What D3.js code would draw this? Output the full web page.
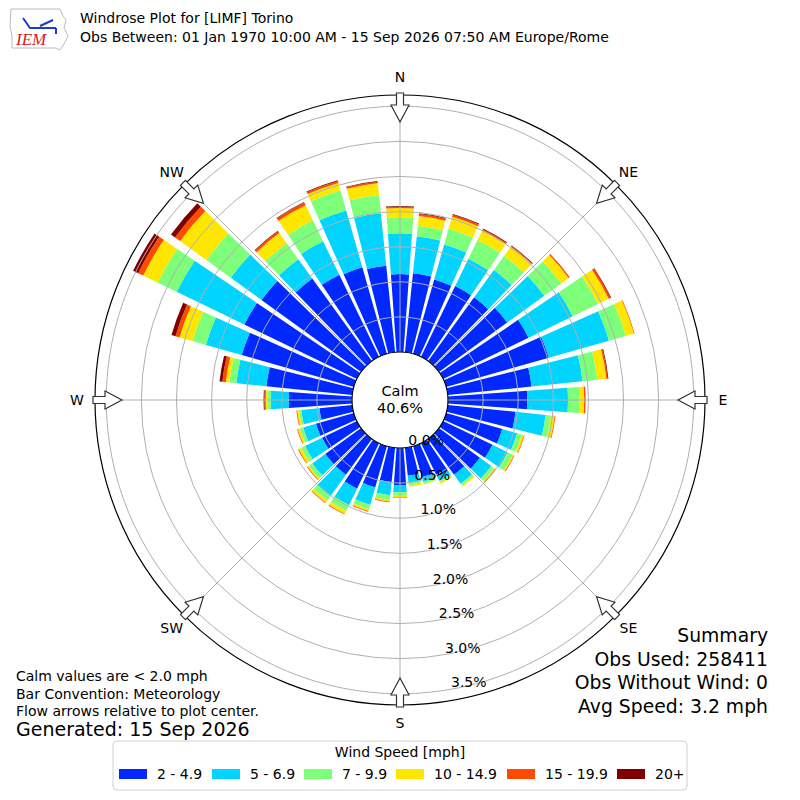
<!DOCTYPE html>
<html>
<head>
<meta charset="utf-8" />
<title>windrose</title>
<style>
html, body { margin:0; background:#fff; }
svg { font-family: 'DejaVu Sans', sans-serif; }
</style>
</head>
<body>
<script src="https://cdn.jsdelivr.net/npm/d3@7"></script>
<script>

//=======================================
// data (percent of obs, per speed bin)
//=======================================

let directions = d3.range(0, 360, 10);

let binLabels = ['2 - 4.9','5 - 6.9','7 - 9.9','10 - 14.9','15 - 19.9','20+'];
let binColors = ['#0028ff','#00d4ff','#7dff7a','#ffe600','#ff4a00','#800000'];

let bin1 = [1.11,1.13,1.10,1.12,1.12,1.20,1.35,1.52,1.20,1.13,.97,.83,.78,.72,.63,.53,.46,.40,.53,.49,.61,.72,.63,.63,.55,.56,.47,.90,1.23,1.66,1.78,1.75,1.45,1.30,1.28,1.24];
let bin2 = [.58,.53,.52,.43,.48,.65,.70,.89,.73,.58,.43,.22,.24,.20,.16,.07,.07,.10,.10,.19,.26,.26,.37,.23,.27,.19,.26,.26,.43,.53,1.07,.54,.34,.53,.84,.75];
let bin3 = [.23,.15,.23,.30,.25,.30,.40,.25,.21,.16,.08,.07,.08,.05,.03,.02,.03,.04,.05,.07,.06,.09,.08,.06,.06,.05,.03,.04,.10,.20,.30,.43,.28,.33,.30,.26];
let bin4 = [.13,.14,.18,.15,.16,.13,.17,.12,.13,.07,.05,.03,.02,.02,.02,.02,.01,.02,.02,.02,.03,.05,.04,.02,.04,.03,.03,.03,.05,.19,.23,.46,.18,.24,.11,.17];
let bin5 = [.02,.03,.03,.02,.01,.02,.03,.01,.02,.02,.01,.01,.01,.01,0,0,0,0,.01,.01,.01,.01,.01,.01,.01,.01,.01,.02,.05,.06,.08,.09,.03,.04,.03,.02];
let bin6 = [.01,.01,.01,.01,.01,0,.01,0,.01,0,0,0,0,0,0,0,0,0,0,0,0,0,0,0,0,0,0,.01,.04,.06,.08,.07,.01,.01,.01,.01];

let ringTicks = [0,0.5,1.0,1.5,2.0,2.5,3.0,3.5];
let compass = ['N','NE','E','SE','S','SW','W','NW'];

let calmText = '40.6%';
let summary = ['Summary','Obs Used: 258411','Obs Without Wind: 0','Avg Speed: 3.2 mph'];
let notes = ['Calm values are < 2.0 mph','Bar Convention: Meteorology','Flow arrows relative to plot center.'];


//=======================================
// chart
//=======================================

let W = 800, H = 800,
		cx = 400, cy = 400,
		r0 = 48, rOuter = 305;

let r = d3.scaleLinear().domain([0, 3.66]).range([r0, rOuter]);

let rows = directions.map((d,i)=>({dir:d, b0:bin1[i], b1:bin2[i], b2:bin3[i], b3:bin4[i], b4:bin5[i], b5:bin6[i]}));
let stacked = d3.stack().keys(['b0','b1','b2','b3','b4','b5'])(rows);

let rad = Math.PI/180, half = 4.15;

let svg = d3.select('body').append('svg').attr('width',W).attr('height',H);

let g = svg.append('g').attr('transform','translate('+[cx,cy]+')');

// bars
let arc = d3.arc();
g.append('g').attr('class','bars')
	.selectAll('g').data(stacked)
		.enter().append('g')
			.attr('fill',(d,i)=>binColors[i])
			.selectAll('path').data(d=>d)
				.enter().append('path')
					.attr('d',d=>arc({
						innerRadius: r(d[0]),
						outerRadius: r(d[1]),
						startAngle: (d.data.dir-half)*rad,
						endAngle: (d.data.dir+half)*rad
					}));

// grid
g.append('g').attr('class','rings')
	.selectAll('circle').data(ringTicks)
		.enter().append('circle')
			.attr('r',d=>r(d))
			.attr('fill','none')
			.attr('stroke','#b0b0b0')
			.attr('stroke-width',1);

g.append('g').attr('class','spokes')
	.selectAll('line').data(d3.range(0,360,45))
		.enter().append('line')
			.attr('x1',0).attr('y1',0)
			.attr('x2',d=>rOuter*Math.sin(d*rad))
			.attr('y2',d=>-rOuter*Math.cos(d*rad))
			.attr('stroke','#b0b0b0')
			.attr('stroke-width',1);

g.append('circle').attr('r',rOuter).attr('fill','none').attr('stroke','#000').attr('stroke-width',1.2);

// calm
g.append('circle').attr('r',r0).attr('fill','#fff').attr('stroke','#000').attr('stroke-width',1.2);
g.append('text').attr('text-anchor','middle').attr('y',-4).attr('font-size',14.5).text('Calm');
g.append('text').attr('text-anchor','middle').attr('y',13).attr('font-size',14.5).text(calmText);

// ring labels
g.append('g').attr('class','ring-labels')
	.selectAll('text').data(ringTicks)
		.enter().append('text')
			.attr('x',d=>r(d)*Math.sin(170*rad))
			.attr('y',d=>-r(d)*Math.cos(170*rad) - 2)
			.attr('font-size',14)
			.text(d=>d.toFixed(1)+'%');

// arrows + compass labels
let arrowShape = [[-3.5,0],[3.5,0],[3.5,12],[9,12],[0,29],[-9,12],[-3.5,12]];
g.append('g').attr('class','arrows')
	.selectAll('g').data(compass)
		.enter().append('g')
			.attr('transform',(d,i)=>'rotate('+(i*45)+') translate(0,'+(-rOuter-2)+')')
			.append('path')
				.attr('d',d3.line()(arrowShape)+'Z')
				.attr('fill','#fff')
				.attr('stroke','#333')
				.attr('stroke-width',1.2);

g.append('g').attr('class','compass')
	.selectAll('text').data(compass)
		.enter().append('text')
			.attr('x',(d,i)=>323*Math.sin(i*45*rad))
			.attr('y',(d,i)=>-323*Math.cos(i*45*rad)+5)
			.attr('text-anchor','middle')
			.attr('font-size',14)
			.text(d=>d);


//=======================================
// header + logo
//=======================================

let logo = svg.append('g').attr('transform','translate(8,6)');
logo.append('path')
	.attr('d','M3,3 L52,3 L55,10 L58,14 L56,22 L60,30 L56,38 L52,44 L48,42 L4,42 L4,30 L2,20 Z')
	.attr('fill','none').attr('stroke','#bbb').attr('stroke-width',1);
logo.append('path').attr('d','M15,12 L22,22 L48,22 M32,20 L45,14 M48,22 L48,28')
	.attr('fill','none').attr('stroke','#1a3cc8').attr('stroke-width',2);
logo.append('text').attr('x',8).attr('y',39).attr('font-family','Liberation Serif, serif')
	.attr('font-style','italic').attr('font-size',17).attr('fill','#d32020').text('IEM');

svg.append('text').attr('x',80).attr('y',23).attr('font-size',14).text('Windrose Plot for [LIMF] Torino');
svg.append('text').attr('x',80).attr('y',42).attr('font-size',14).text('Obs Between: 01 Jan 1970 10:00 AM - 15 Sep 2026 07:50 AM Europe/Rome');

svg.append('g').selectAll('text').data(notes)
	.enter().append('text')
		.attr('x',16).attr('y',(d,i)=>681+i*17.5)
		.attr('font-size',14).text(d=>d);
svg.append('text').attr('x',16).attr('y',736).attr('font-size',19).text('Generated: 15 Sep 2026');

svg.append('g').selectAll('text').data(summary)
	.enter().append('text')
		.attr('x',768).attr('y',(d,i)=>642+i*23.5)
		.attr('text-anchor','end')
		.attr('font-size',18.8).text(d=>d);


//=======================================
// legend
//=======================================

let lg = svg.append('g').attr('class','legend');
lg.append('rect').attr('x',113).attr('y',741).attr('width',574).attr('height',49).attr('rx',4)
	.attr('fill','#fff').attr('stroke','#d0d0d0');
lg.append('text').attr('x',400).attr('y',757).attr('text-anchor','middle').attr('font-size',14).text('Wind Speed [mph]');

let legX = [119,212,304,396,507,617];
lg.selectAll('g.item').data(binLabels)
	.enter().append('g').attr('class','item')
		.attr('transform',(d,i)=>'translate('+[legX[i],769]+')')
		.call(sel=>{
			sel.append('rect').attr('width',28).attr('height',10).attr('fill',(d,i)=>binColors[i]);
			sel.append('text').attr('x',38).attr('y',10).attr('font-size',14).text(d=>d);
		});

</script>
</body>
</html>
